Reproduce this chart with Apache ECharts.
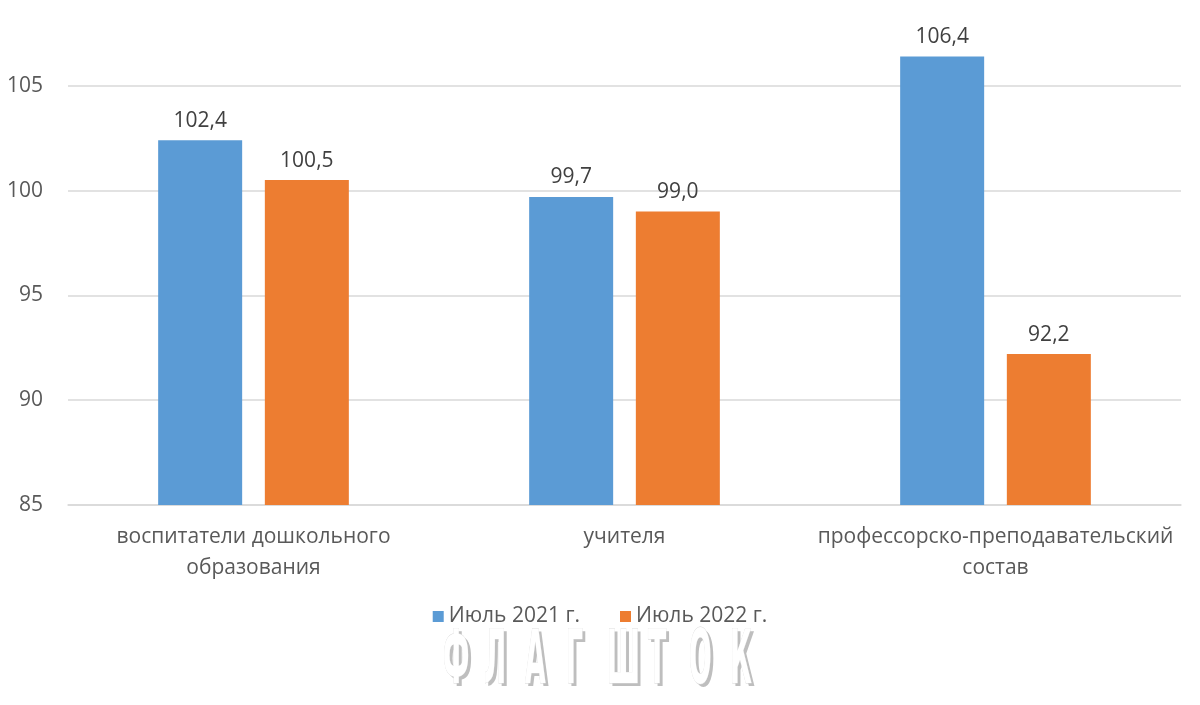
<!DOCTYPE html>
<html>
<head>
<meta charset="utf-8">
<script src="https://cdn.jsdelivr.net/npm/echarts@6/dist/echarts.min.js"></script>
<style>html,body{margin:0;padding:0;background:#fff}#c{width:1200px;height:705px}</style>
</head>
<body>
<div id="c"></div>
<script>
const categories = ['воспитатели дошкольного образования', 'учителя', 'профессорско-преподавательский состав'];
const seriesNames = ['Июль 2021 г.', 'Июль 2022 г.'];
const july2021 = [102.4, 99.7, 106.4];
const july2022 = [100.5, 99.0, 92.2];
const yTicks = { min: 85, max: 110, interval: 5 };
const watermark = ['Ф','Л','А','Г','Ш','Т','О','К'];

const FONT = '"Open Sans", "Noto Sans", sans-serif';
const chart = echarts.init(document.getElementById('c'));
const fmt = p => p.value.toFixed(1).replace('.', ',');
const barLabel = { show: true, position: 'top', distance: 9, color: '#404040', fontSize: 21, fontFamily: FONT, formatter: fmt };
const wrap = v => v.length > 25 ? v.replace(/ (\S+)$/, '\n$1') : v;

const WMFONT = 'bold 74px "Liberation Sans Narrow", "DejaVu Sans Condensed", sans-serif';
const wmGraphics = [];
watermark.forEach((ch, i) => {
  const x = 443 + i * 41;
  wmGraphics.push({
    type: 'text', x: x + 3, y: 627 + 3, scaleX: 0.4, z: 10,
    style: { text: ch, fill: 'rgba(110,110,110,0.45)', font: WMFONT, shadowColor: 'rgba(0,0,0,0.45)', shadowBlur: 7 }
  });
  wmGraphics.push({
    type: 'text', x: x, y: 627, scaleX: 0.4, z: 11,
    style: { text: ch, fill: '#ffffff', stroke: '#d6d6d6', lineWidth: 0.8, font: WMFONT }
  });
});

chart.setOption({
  animation: false,
  color: ['#5b9bd5', '#ed7d31'],
  grid: { left: 68, right: 19, top: -19, bottom: 200, outerBoundsMode: 'none', containLabel: false },
  legend: {
    data: seriesNames,
    top: 601,
    left: 'center',
    icon: 'rect',
    itemWidth: 11,
    itemHeight: 11,
    itemGap: 40,
    textStyle: { color: '#595959', fontSize: 21, fontFamily: FONT }
  },
  xAxis: {
    type: 'category',
    data: categories,
    axisLine: { lineStyle: { color: '#d9d9d9', width: 1.5 } },
    axisTick: { show: false },
    axisLabel: {
      color: '#595959', fontSize: 21, fontFamily: FONT, margin: 17, lineHeight: 31,
      overflow: 'none', interval: 0, formatter: wrap
    }
  },
  yAxis: {
    type: 'value',
    min: yTicks.min, max: yTicks.max, interval: yTicks.interval,
    axisLine: { show: false },
    axisTick: { show: false },
    splitLine: { lineStyle: { color: '#d9d9d9', width: 1.5 } },
    axisLabel: { color: '#595959', fontSize: 21, fontFamily: FONT, margin: 25 }
  },
  series: [
    { name: seriesNames[0], type: 'bar', data: july2021, barWidth: 84, barGap: '27%', label: barLabel },
    { name: seriesNames[1], type: 'bar', data: july2022, barWidth: 84, barGap: '27%', label: barLabel }
  ],
  graphic: wmGraphics
});
</script>
</body>
</html>
